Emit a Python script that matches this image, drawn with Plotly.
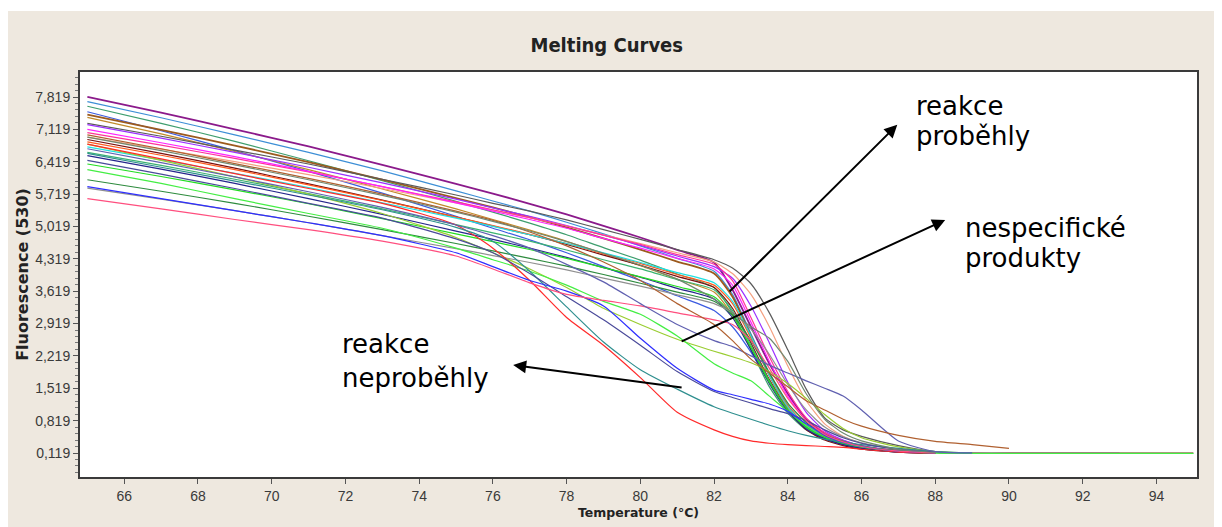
import plotly.graph_objects as go

# ---------------- data ----------------
temps = [65, 67, 69, 71, 73, 75, 76, 77, 78, 79, 80, 81, 82, 82.5, 83, 83.5, 84,
         84.5, 85, 85.5, 86, 87, 88, 89, 90, 93, 95]

N = None
c01 = [7.82, 7.48, 7.12, 6.75, 6.35, 5.94, 5.73, 5.51, 5.28, 5.03, 4.78, 4.51, 4.24, 3.65, 2.85, 2.05, 1.40, 0.85, 0.55, 0.38, 0.27, 0.17, 0.13, N, N, N, N]
c02 = [7.72, 7.37, 7.00, 6.62, 6.22, 5.79, 5.57, 5.35, 5.11, 4.86, 4.60, 4.33, 4.05, 3.55, 2.70, 1.85, 1.15, 0.70, 0.46, 0.33, 0.25, 0.16, 0.12, N, N, N, N]
c03 = [7.62, 7.25, 6.86, 6.44, 6.01, 5.56, 5.33, 5.09, 4.84, 4.56, 4.29, 3.99, 3.70, 3.15, 2.35, 1.55, 0.98, 0.62, 0.42, 0.30, 0.22, 0.14, 0.12, N, N, N, N]
c04 = [7.50, 7.09, 6.66, 6.21, 5.74, 5.24, 4.98, 4.73, 4.45, 4.15, 3.85, 3.52, 3.20, 2.85, 2.30, 1.65, 1.05, 0.68, 0.45, 0.32, 0.24, 0.15, 0.12, N, N, N, N]
c05 = [7.44, 7.11, 6.77, 6.41, 6.03, 5.63, 5.43, 5.22, 5.00, 4.76, 4.52, 4.26, 4.00, 3.50, 2.65, 1.80, 1.12, 0.68, 0.45, 0.32, 0.24, 0.15, 0.12, N, N, N, N]
c06 = [7.38, 7.02, 6.64, 6.25, 5.83, 5.40, 5.17, 4.94, 4.70, 4.43, 4.17, 3.88, 3.60, 3.10, 2.40, 1.70, 1.10, 0.72, 0.50, 0.36, 0.26, 0.16, 0.12, N, N, N, N]
c07 = [7.25, 6.97, 6.67, 6.37, 6.04, 5.70, 5.52, 5.35, 5.16, 4.95, 4.74, 4.52, 4.30, 4.12, 3.78, 3.15, 2.35, 1.50, 0.88, 0.62, 0.48, 0.28, 0.15, 0.12, N, N, N]
c08 = [7.22, 6.93, 6.62, 6.30, 5.96, 5.61, 5.42, 5.24, 5.04, 4.83, 4.61, 4.38, 4.15, 3.90, 3.30, 2.50, 1.65, 1.00, 0.60, 0.40, 0.28, 0.17, 0.13, 0.12, 0.12, 0.12, N]
c09 = [6.90, 6.60, 6.28, 5.94, 5.59, 5.22, 5.03, 4.84, 4.63, 4.40, 4.18, 3.94, 3.70, 3.25, 2.50, 1.70, 1.05, 0.62, 0.40, 0.28, 0.20, 0.14, 0.12, N, N, N, N]
c10 = [6.85, 6.56, 6.25, 5.92, 5.58, 5.22, 5.04, 4.85, 4.65, 4.43, 4.22, 3.98, 3.75, 3.35, 2.60, 1.80, 1.15, 0.72, 0.48, 0.34, 0.25, 0.16, 0.12, N, N, N, N]
c11 = [6.95, 6.69, 6.42, 6.14, 5.84, 5.53, 5.37, 5.21, 5.03, 4.84, 4.65, 4.45, 4.25, 4.00, 3.55, 2.85, 2.00, 1.25, 0.75, 0.48, 0.33, 0.19, 0.13, N, N, N, N]
c12 = [6.74, 6.46, 6.17, 5.86, 5.53, 5.20, 5.02, 4.84, 4.65, 4.45, 4.24, 4.02, 3.80, 3.40, 2.65, 1.80, 1.12, 0.70, 0.46, 0.33, 0.25, 0.16, 0.12, N, N, N, N]
c13 = [6.62, 6.34, 6.04, 5.73, 5.40, 5.06, 4.88, 4.70, 4.51, 4.30, 4.10, 3.87, 3.65, 3.20, 2.45, 1.68, 1.05, 0.66, 0.44, 0.31, 0.23, 0.15, 0.12, N, N, N, N]
c14 = [6.55, 6.26, 5.95, 5.62, 5.28, 4.92, 4.74, 4.55, 4.35, 4.13, 3.92, 3.68, 3.45, 3.05, 2.35, 1.62, 1.02, 0.64, 0.43, 0.30, 0.22, 0.14, 0.12, N, N, N, N]
c15 = [7.05, 6.78, 6.49, 6.20, 5.88, 5.55, 5.38, 5.21, 5.03, 4.83, 4.63, 4.41, 4.20, 3.85, 3.05, 2.20, 1.45, 0.88, 0.56, 0.38, 0.27, 0.17, 0.13, 0.12, 0.12, 0.12, 0.12]
c16 = [7.12, 6.83, 6.53, 6.21, 5.88, 5.53, 5.35, 5.17, 4.98, 4.76, 4.55, 4.33, 4.10, 3.75, 2.95, 2.10, 1.35, 0.82, 0.52, 0.36, 0.26, 0.16, 0.12, N, N, N, N]
c17 = [6.37, 6.10, 5.81, 5.51, 5.19, 4.86, 4.69, 4.52, 4.33, 4.13, 3.93, 3.72, 3.50, 3.10, 2.40, 1.65, 1.05, 0.68, 0.46, 0.33, 0.25, 0.16, 0.12, 0.11, 0.11, 0.11, 0.11]
c18 = [6.03, 5.78, 5.52, 5.24, 4.95, 4.65, 4.49, 4.33, 4.16, 3.98, 3.79, 3.60, 3.40, 3.10, 2.55, 1.85, 1.20, 0.78, 0.52, 0.37, 0.27, 0.17, 0.13, N, N, N, N]
c19 = [5.85, 5.61, 5.36, 5.10, 4.82, 4.54, 4.39, 4.24, 4.08, 3.90, 3.73, 3.54, 3.35, 3.15, 2.80, 2.25, 1.60, 1.05, 0.68, 0.47, 0.34, 0.20, 0.14, N, N, N, N]
c20 = [6.80, 6.45, 6.09, 5.72, 5.30, 4.78, 4.45, 4.10, 3.70, 3.25, 2.90, 2.58, 2.32, 2.20, 2.07, 1.88, 1.62, 1.30, 0.95, 0.65, 0.45, 0.25, 0.15, 0.12, N, N, N]
c21 = [6.25, 5.95, 5.62, 5.30, 4.98, 4.55, 4.30, 4.05, 3.75, 3.40, 3.12, 2.65, 2.05, 1.85, 1.68, 1.35, 1.02, 0.72, 0.50, 0.35, 0.26, 0.16, 0.12, 0.11, 0.11, 0.11, 0.11]
c22 = [6.80, 6.48, 6.16, 5.84, 5.52, 5.05, 4.55, 3.85, 3.05, 2.45, 1.75, 1.00, 0.62, 0.48, 0.38, 0.33, 0.30, 0.28, 0.26, 0.24, 0.20, 0.14, 0.12, N, N, N, N]
c23 = [6.60, 6.30, 6.00, 5.70, 5.38, 5.00, 4.70, 4.05, 3.28, 2.52, 1.92, 1.50, 1.12, 0.98, 0.85, 0.72, 0.60, 0.50, 0.42, 0.36, 0.30, 0.22, 0.15, 0.12, N, N, N]
c24 = [6.45, 6.15, 5.84, 5.52, 5.20, 4.75, 4.45, 4.00, 3.50, 3.00, 2.45, 1.88, 1.45, 1.32, 1.20, 1.08, 0.97, 0.82, 0.62, 0.45, 0.33, 0.20, 0.14, N, N, N, N]
c25 = [5.88, 5.62, 5.36, 5.10, 4.82, 4.45, 4.15, 3.85, 3.62, 3.30, 2.60, 1.95, 1.48, 1.38, 1.28, 1.18, 1.02, 0.75, 0.50, 0.35, 0.26, 0.16, 0.12, N, N, N, N]
c26 = [5.62, 5.40, 5.17, 4.95, 4.70, 4.38, 4.10, 3.80, 3.55, 3.42, 3.30, 3.15, 3.00, 2.90, 2.55, 1.95, 1.30, 0.82, 0.52, 0.36, 0.26, 0.16, 0.12, N, N, N, N]
c27 = [6.70, 6.40, 6.09, 5.77, 5.43, 5.05, 4.82, 4.55, 4.20, 3.82, 3.35, 2.90, 2.55, 2.42, 2.22, 2.02, 1.85, 1.68, 1.52, 1.35, 1.05, 0.38, 0.15, 0.12, N, N, N]
c28 = [7.00, 6.70, 6.38, 6.06, 5.72, 5.35, 5.15, 4.90, 4.60, 4.25, 3.85, 3.35, 2.90, 2.55, 2.15, 1.85, 1.55, 1.25, 1.05, 0.85, 0.70, 0.50, 0.37, 0.30, 0.22, N, N]
c29 = [6.95, 6.66, 6.35, 6.03, 5.69, 5.33, 5.13, 4.92, 4.69, 4.44, 4.18, 3.88, 3.45, 3.15, 2.85, 2.60, 2.10, 1.40, 0.85, 0.55, 0.38, 0.20, 0.13, N, N, N, N]

y_ticks = [0.119, 0.819, 1.519, 2.219, 2.919, 3.619, 4.319, 5.019, 5.719, 6.419, 7.119, 7.819]
y_tick_labels = ["0,119", "0,819", "1,519", "2,219", "2,919", "3,619", "4,319",
                 "5,019", "5,719", "6,419", "7,119", "7,819"]
x_ticks = [66, 68, 70, 72, 74, 76, 78, 80, 82, 84, 86, 88, 90, 92, 94]

label_lines = ["reakce", "proběhly", "nespecifické", "produkty", "reakce", "neproběhly"]

# ---------------- styles ----------------
series = [c01, c02, c03, c04, c05, c06, c07, c08, c09, c10, c11, c12, c13, c14, c15,
          c16, c17, c18, c19, c20, c21, c22, c23, c24, c25, c26, c27, c28, c29]
colors = ["#8B1A8B", "#3D8FD6", "#3E9E6E", "#3C5BE0", "#9C5A1E", "#C08A2A", "#5A5A5A",
          "#9B30FF", "#7A1010", "#FF5A1F", "#F4A080", "#22E0E0", "#3CB371", "#26268C",
          "#FF3399", "#FF22FF", "#22DD22", "#2E8B3E", "#909090", "#9ACD32", "#44EE44",
          "#FF2A2A", "#2F8F8F", "#4A4A9A", "#2E2EFF", "#FF4F7F", "#6060B0", "#B06030",
          "#708870"]
widths = {0: 1.8, 4: 1.8}

fig = go.Figure()
for i, (vals, col) in enumerate(zip(series, colors)):
    fig.add_trace(go.Scatter(x=temps, y=vals, mode="lines",
                             line=dict(color=col, width=widths.get(i, 1.2),
                                       shape="spline", smoothing=0.6),
                             connectgaps=False, hoverinfo="skip"))

BEIGE = "#EEE8DF"
axis_font = dict(family="Liberation Sans, Arial, sans-serif", size=14, color="#3a3a3a")

fig.update_layout(
    width=1222, height=527,
    margin=dict(l=72, r=33, t=64, b=58),
    paper_bgcolor=BEIGE, plot_bgcolor="white",
    showlegend=False,
    title=dict(text="<b>Melting Curves</b>", x=0.49, xref="container", xanchor="center",
               y=1 - 37 / 527, yref="container", yanchor="middle",
               font=dict(family="DejaVu Sans Condensed, DejaVu Sans, sans-serif",
                         size=20, color="#222222")),
    xaxis=dict(range=[64.8, 95.1], tickmode="array", tickvals=x_ticks,
               ticks="outside", ticklen=5, tickcolor="#555555", tickfont=axis_font,
               showgrid=False, zeroline=False, showline=True, linewidth=2,
               linecolor="#3a3a3a", mirror=True,
               title=dict(text="<b>Temperature (°C)</b>", standoff=5,
                          font=dict(family="DejaVu Sans, sans-serif", size=12.5,
                                    color="#222222"))),
    yaxis=dict(range=[-0.40, 8.36], tickmode="array", tickvals=y_ticks,
               ticktext=y_tick_labels, ticks="outside", ticklen=5, tickcolor="#555555",
               tickfont=axis_font, showgrid=False, zeroline=False, showline=True,
               linewidth=2, linecolor="#3a3a3a", mirror=True,
               minor=dict(tickmode="linear", tick0=0.119, dtick=0.14, ticks="outside",
                          ticklen=3, tickcolor="#777777", showgrid=False),
               title=dict(text="<b>Fluorescence (530)</b>", standoff=3,
                          font=dict(family="DejaVu Sans, sans-serif", size=16,
                                    color="#222222"))),
)

# thin white strip at the very top (outside the beige panel)
fig.add_shape(type="rect", xref="paper", yref="paper", x0=-0.1, x1=1.1,
              y0=(405 + 61) / 405, y1=1.2, fillcolor="white", line_width=0, layer="below")

# arrows (head at x,y ; tail at ax,ay)
arrows = [
    dict(x=86.97, y=7.22, ax=82.38, ay=3.58),
    dict(x=88.27, y=5.16, ax=81.08, ay=2.52),
    dict(x=76.55, y=2.02, ax=81.16, ay=1.53),
]
for a in arrows:
    fig.add_annotation(x=a["x"], y=a["y"], ax=a["ax"], ay=a["ay"], xref="x", yref="y",
                       axref="x", ayref="y", text="", showarrow=True, arrowhead=2,
                       arrowsize=1.3, arrowwidth=2, arrowcolor="black", standoff=0)

label_font = dict(family="DejaVu Sans, sans-serif", size=26, color="black")
label_pos = [(87.42, 7.63), (87.42, 6.98), (88.75, 4.99), (88.75, 4.34),
             (71.85, 2.48), (71.85, 1.74)]
for txt, (lx, ly) in zip(label_lines, label_pos):
    fig.add_annotation(x=lx, y=ly, xref="x", yref="y", text=txt, showarrow=False,
                       xanchor="left", yanchor="middle", align="left", font=label_font)

fig.write_html("out.html")
